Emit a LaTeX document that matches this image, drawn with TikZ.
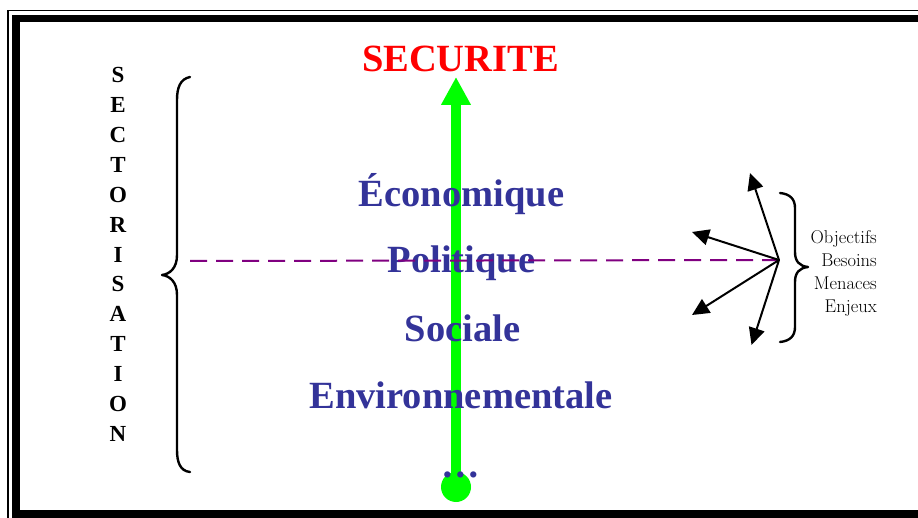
\documentclass[tikz,border=0pt]{standalone}
\usepackage{fontspec}
\newfontfamily\tnr{Liberation Serif}
\usetikzlibrary{arrows.meta}
\definecolor{secblue}{HTML}{333399}
\definecolor{secgreen}{HTML}{00FF00}
\definecolor{secred}{HTML}{FF0000}
\definecolor{secpurple}{HTML}{800080}
\tikzset{
  bigword/.style={anchor=base, inner sep=0pt, text=secblue, font=\tnr\bfseries\fontsize{38.5}{40}\selectfont},
  vletter/.style={anchor=base, inner sep=0pt, font=\tnr\bfseries\fontsize{23}{25}\selectfont},
  bracestyle/.style={line width=2.4pt, line cap=round, line join=round},
  fanarrow/.style={line width=2pt, -{Triangle[length=17pt,width=16pt]}},
  smallword/.style={anchor=base east, inner sep=0pt, font=\fontsize{18.5}{20}\selectfont}
}
\begin{document}
\begin{tikzpicture}[x=1pt,y=-1pt]
\useasboundingbox (0,0) rectangle (918,518);
\clip (0,0) rectangle (918,518);
\fill[white] (0,0) rectangle (918,518);
% frame
\draw[line width=1.5pt] (8,10.5) rectangle (960,540);
\draw[line width=7.5pt] (16,18.5) rectangle (940,514);
% green arrow
\node[circle, fill=secgreen, minimum size=30pt, inner sep=0pt] (root) at (456,487) {};
\coordinate (apex) at (456,77);
\draw[secgreen, line width=10pt, -{Triangle[length=28pt,width=28pt]}] (root.center) -- (apex);
% title
\node[anchor=base, inner sep=0pt, text=secred, font=\tnr\bfseries\fontsize{38.5}{40}\selectfont] (secu) at (460.5,71.7) {SECURITE};
% sectors
\node[bigword] (eco) at (461.5,206.7) {Économique};
\node[bigword] (pol) at (461.5,273) {Politique};
\node[bigword] (soc) at (462.5,341.7) {Sociale};
\node[bigword] (env) at (461,408) {Environnementale};
\node[bigword] (dots) at (461,477) {…};
% vertical word
\foreach \l [count=\i from 0] in {S,E,C,T,O,R,I,S,A,T,I,O,N}{
  \node[vletter] (v\i) at (118,{82.7+29.9*\i}) {\l};
}
% left brace
\draw[bracestyle] (190,77) .. controls (180,79) and (177,88) .. (177,100)
  -- (177,255) .. controls (177,268) and (170,274) .. (162,275)
  .. controls (170,276) and (177,282) .. (177,295)
  -- (177,450) .. controls (177,462) and (180,471) .. (190,472);
% dashed line
\coordinate (dstart) at (190,261);
\coordinate (hub) at (779,260);
\draw[secpurple, line width=2pt, dash pattern=on 17pt off 9pt] (dstart) -- (hub);
% fan arrows
\coordinate (t1) at (750,173);
\coordinate (t2) at (692,232);
\coordinate (t3) at (692,315);
\coordinate (t4) at (751.5,345);
\foreach \t in {t1,t2,t3,t4}{ \draw[fanarrow] (hub) -- (\t); }
% right brace
\draw[bracestyle] (780,193) .. controls (790,194) and (795,199) .. (795,208)
  -- (795,252) .. controls (795,261) and (799,266) .. (808,267)
  .. controls (799,268) and (795,273) .. (795,282)
  -- (795,327) .. controls (795,336) and (790,341) .. (780,342);
% right words
\node[smallword] (w1) at (877,244) {Objectifs};
\node[smallword] (w2) at (877,267) {Besoins};
\node[smallword] (w3) at (877,290) {Menaces};
\node[smallword] (w4) at (877,312.5) {Enjeux};
\end{tikzpicture}
\end{document}
